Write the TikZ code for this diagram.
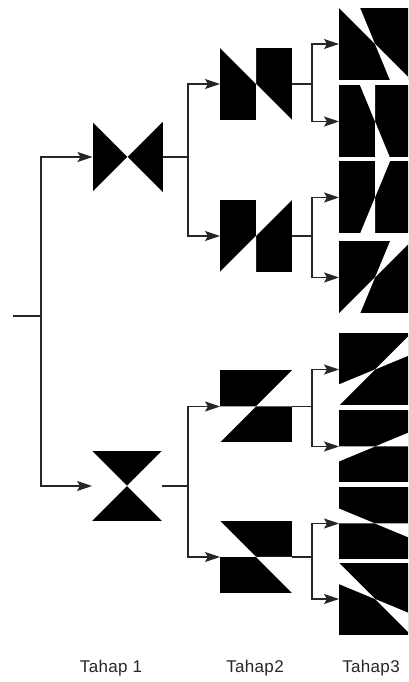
\documentclass[tikz,border=0pt]{standalone}
\usepackage{fontspec}
\setmainfont{Liberation Sans}
\usepackage{tikz}
\usetikzlibrary{arrows.meta, positioning, calc}

\newcommand{\keil}[3]{%
  \fill (#1.south west) rectangle (#1.north east);
  \begin{scope}
    \clip (#1.south west) rectangle (#1.north east);
    \fill[white] (#1.center) -- ++(#2:60) arc[start angle=#2, end angle=#3, radius=60] -- cycle
                 (#1.center) -- ++(#2+180:60) arc[start angle=#2+180, end angle=#3+180, radius=60] -- cycle;
  \end{scope}}

\begin{document}
\begin{tikzpicture}[x=1pt, y=1pt,
  bild/.style={minimum width=72pt, minimum height=72pt, inner sep=0pt, outer sep=0pt},
  bildklein/.style={bild, minimum width=70pt, minimum height=70pt},
  linie/.style={line width=1.1pt, black!85},
  pfeil/.style={linie, -{Stealth[length=15pt, width=10pt, inset=3pt]}},
  beschrift/.style={font=\fontsize{17}{19}\selectfont\addfontfeature{LetterSpace=2}, inner sep=0pt, black!85}
]
  \clip (0,0) rectangle (408,682);

  \node[bildklein] (t1a) at (127.5,525) {};
  \node[bildklein] (t1b) at (127,196) {};

  \node[bild] (t2a) at (256,598) {};
  \node[bild] (t2b) at (256,446) {};
  \node[bild] (t2c) at (256,275.5) {};
  \node[bild] (t2d) at (256,125) {};

  \node[bild] (t3a) at (375,638) {};
  \node[bild] (t3b) at (375,560.5) {};
  \node[bild] (t3c) at (375,484.5) {};
  \node[bild] (t3d) at (375,404.5) {};
  \node[bild] (t3e) at (375,312.5) {};
  \node[bild] (t3f) at (375,235.5) {};
  \node[bild] (t3g) at (375,158.5) {};
  \node[bild] (t3h) at (375,83) {};

  \keil{t1a}{45}{135}
  \keil{t1b}{-45}{45}

  \keil{t2a}{90}{135}
  \keil{t2b}{45}{90}
  \keil{t2c}{0}{45}
  \keil{t2d}{-45}{0}

  \keil{t3a}{112.5}{135}
  \keil{t3b}{90}{112.5}
  \keil{t3c}{67.5}{90}
  \keil{t3d}{45}{67.5}
  \keil{t3e}{22.5}{45}
  \keil{t3f}{0}{22.5}
  \keil{t3g}{-22.5}{0}
  \keil{t3h}{-45}{-22.5}

  \coordinate (eingang) at (13,366);
  \draw[linie] (eingang) -- ++(28,0) coordinate (k0);
  \draw[pfeil] (k0) |- (t1a);
  \draw[pfeil] (k0) |- (t1b);

  \draw[linie] (t1a.east) -- ++(25.5,0) coordinate (k1);
  \draw[pfeil] (k1) |- (t2a);
  \draw[pfeil] (k1) |- (t2b);
  \draw[linie] (t1b.east) -- ++(26,0) coordinate (k2);
  \draw[pfeil] (k2) |- (t2c);
  \draw[pfeil] (k2) |- (t2d);

  \draw[linie] (t2a.east) -- ++(20,0) coordinate (k3);
  \draw[pfeil] (k3) |- (t3a);
  \draw[pfeil] (k3) |- (t3b);
  \draw[linie] (t2b.east) -- ++(20,0) coordinate (k4);
  \draw[pfeil] (k4) |- (t3c);
  \draw[pfeil] (k4) |- (t3d);
  \draw[linie] (t2c.east) -- ++(20,0) coordinate (k5);
  \draw[pfeil] (k5) |- (t3e);
  \draw[pfeil] (k5) |- (t3f);
  \draw[linie] (t2d.east) -- ++(20,0) coordinate (k6);
  \draw[pfeil] (k6) |- (t3g);
  \draw[pfeil] (k6) |- (t3h);

  \node[beschrift] (tahap1) at (111,14) {Tahap 1};
  \node[beschrift] (tahap2) at (255,14) {Tahap2};
  \node[beschrift] (tahap3) at (371,14) {Tahap3};
\end{tikzpicture}
\end{document}
